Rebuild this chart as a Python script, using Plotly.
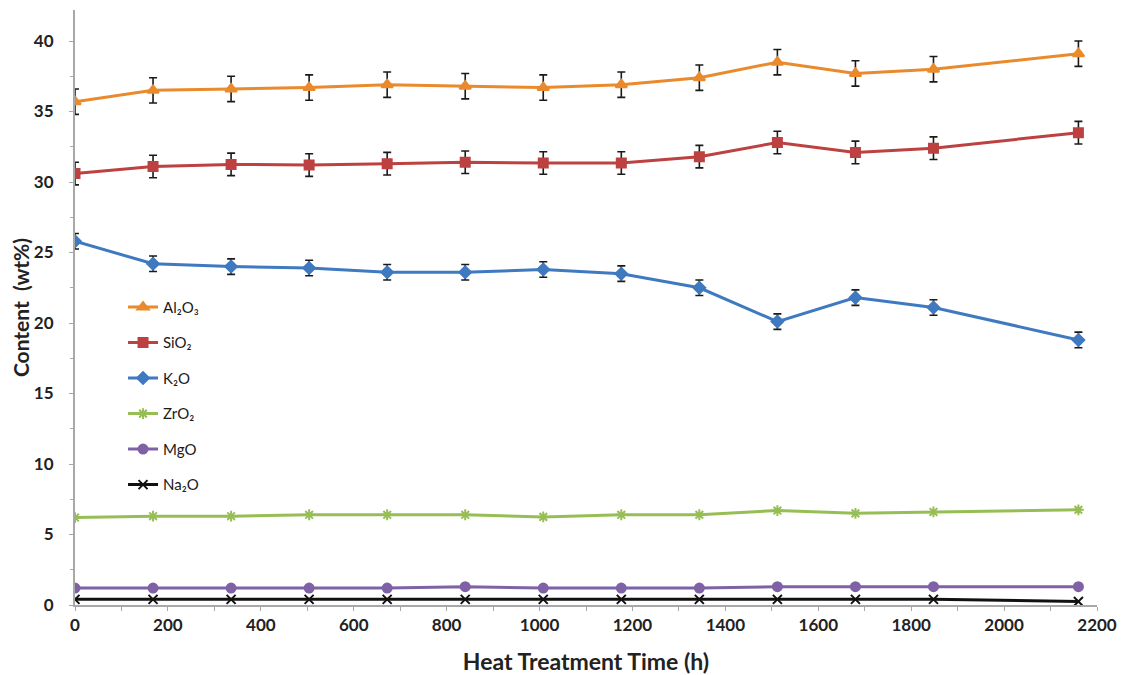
import plotly.graph_objects as go

time_h = [0, 168, 336, 504, 672, 840, 1008, 1176, 1344, 1512, 1680, 1848, 2160]

al2o3 = [35.7, 36.5, 36.6, 36.7, 36.9, 36.8, 36.7, 36.9, 37.4, 38.5, 37.7, 38.0, 39.1]
al2o3_err = [0.9] * 13
sio2 = [30.6, 31.1, 31.25, 31.2, 31.3, 31.4, 31.35, 31.35, 31.8, 32.8, 32.1, 32.4, 33.5]
sio2_err = [0.8] * 13
k2o = [25.8, 24.2, 24.0, 23.9, 23.6, 23.6, 23.8, 23.5, 22.5, 20.1, 21.8, 21.1, 18.8]
k2o_err = [0.55] * 13
zro2 = [6.2, 6.3, 6.3, 6.4, 6.4, 6.4, 6.25, 6.4, 6.4, 6.7, 6.5, 6.6, 6.75]
mgo = [1.2, 1.2, 1.2, 1.2, 1.2, 1.3, 1.2, 1.2, 1.2, 1.3, 1.3, 1.3, 1.3]
na2o = [0.4, 0.4, 0.4, 0.4, 0.4, 0.4, 0.4, 0.4, 0.4, 0.4, 0.4, 0.4, 0.25]

series = [
    ("Al₂O₃", al2o3, al2o3_err, "#E98A2C", "triangle-up", 10),
    ("SiO₂", sio2, sio2_err, "#BC4140", "square", 9),
    ("K₂O", k2o, k2o_err, "#3F79C0", "diamond", 9),
    ("ZrO₂", zro2, None, "#97BE55", "asterisk-open", 9),
    ("MgO", mgo, None, "#7F62A6", "circle", 9),
    ("Na₂O", na2o, None, "#111111", "x-thin-open", 9),
]

FONT = "Lato"
fig = go.Figure()
for i, (name, vals, err, color, sym, size) in enumerate(series):
    kw = {}
    if err is not None:
        kw["error_y"] = dict(type="data", array=err, visible=True, color="#1a1a1a",
                             thickness=1.6, width=4)
    fig.add_trace(go.Scatter(
        x=time_h, y=vals, name=name, mode="lines+markers",
        line=dict(color=color, width=3),
        marker=dict(symbol=sym, size=size, color=color,
                    line=dict(color=color, width=2)),
        legendgroup=f"g{i}",
        **kw,
    ))

axis_common = dict(showline=True, linecolor="#a8a8a8", linewidth=2, showgrid=False,
                   zeroline=False, ticks="outside", ticklen=4, tickcolor="#a8a8a8",
                   automargin=False,
                   tickfont=dict(family=FONT, size=17, color="#222", weight="bold"))

fig.update_layout(
    width=1120, height=667,
    margin=dict(l=67, r=31, t=2, b=70),
    plot_bgcolor="white", paper_bgcolor="white",
    showlegend=True,
    legend=dict(x=0.047, y=0.528, xanchor="left", yanchor="top",
                font=dict(family=FONT, size=15, color="#1a1a1a"),
                tracegroupgap=13, bgcolor="rgba(0,0,0,0)", itemwidth=30),
    xaxis=dict(range=[0, 2200], tick0=0, dtick=200,
               minor=dict(dtick=100, ticks="outside", ticklen=4, tickcolor="#a8a8a8"),
               title=dict(text="<b>Heat Treatment Time (h)</b>", standoff=19,
                          font=dict(family=FONT, size=23, color="#222")),
               **axis_common),
    yaxis=dict(range=[0, 42.2], tick0=0, dtick=5,
               minor=dict(dtick=2.5, ticks="outside", ticklen=3, tickcolor="#a8a8a8"),
               ticklabelstandoff=12,
               title=dict(text="<b>Content  (wt%)</b>", standoff=10,
                          font=dict(family=FONT, size=21, color="#222")),
               **axis_common),
)

fig.write_html("out.html")
